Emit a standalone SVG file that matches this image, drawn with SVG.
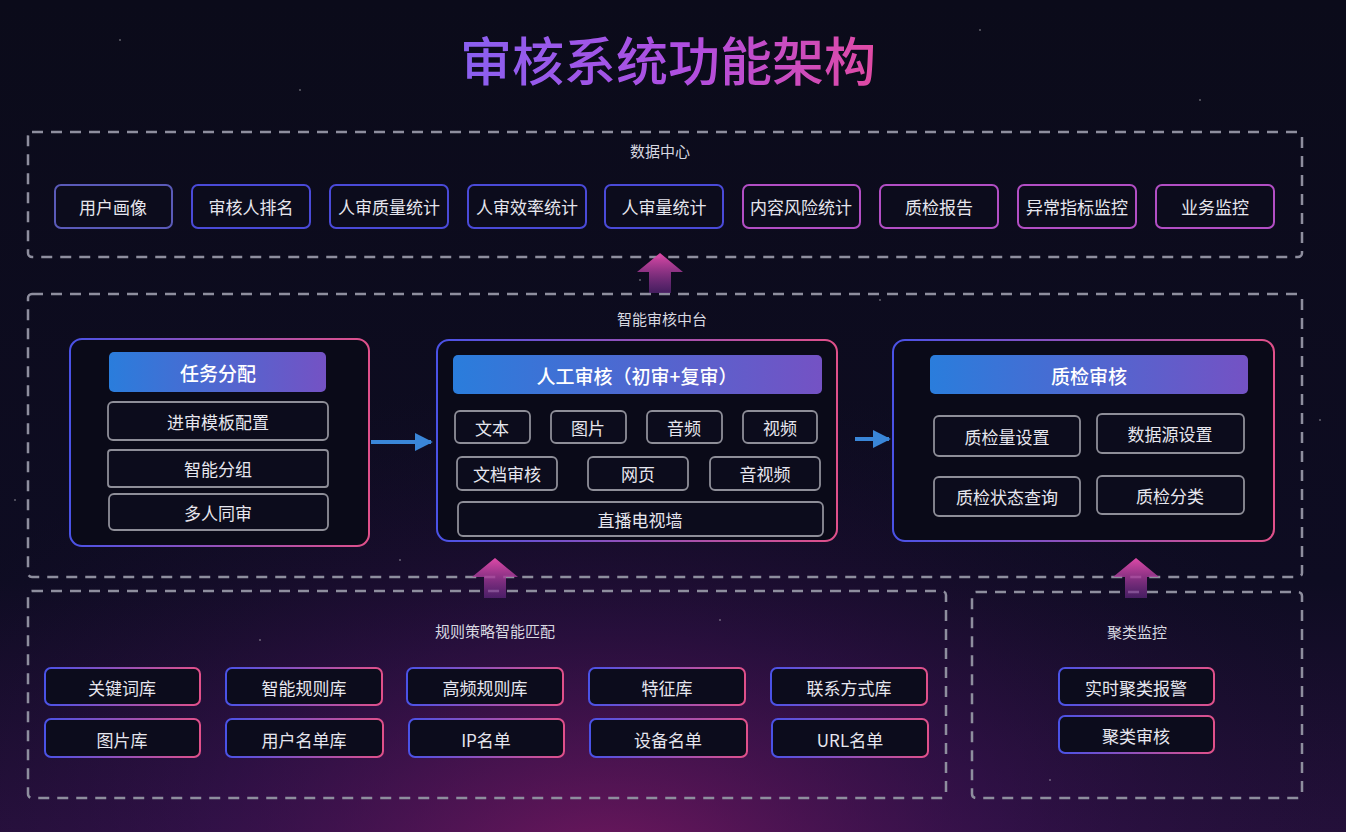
<svg xmlns="http://www.w3.org/2000/svg" width="1346" height="832" viewBox="0 0 1346 832">
<defs>
<linearGradient id="bg" x1="0" y1="0" x2="0" y2="1">
<stop offset="0" stop-color="#0b0b1a"/>
<stop offset="0.7" stop-color="#0e0c22"/>
<stop offset="1" stop-color="#24103a"/>
</linearGradient>
<radialGradient id="glow" cx="0.45" cy="1.05" r="0.6">
<stop offset="0" stop-color="#8a1a6a" stop-opacity="0.75"/>
<stop offset="0.5" stop-color="#4a1260" stop-opacity="0.35"/>
<stop offset="1" stop-color="#1a0c30" stop-opacity="0"/>
</radialGradient>
<linearGradient id="title" x1="0" y1="0" x2="1" y2="0">
<stop offset="0" stop-color="#8a60f0"/>
<stop offset="0.55" stop-color="#b04ee0"/>
<stop offset="1" stop-color="#e04aa4"/>
</linearGradient>
<linearGradient id="bp" x1="0" y1="0" x2="1" y2="0">
<stop offset="0" stop-color="#4a52e6"/>
<stop offset="1" stop-color="#e0508a"/>
</linearGradient>
<linearGradient id="hdr" x1="0" y1="0" x2="1" y2="0">
<stop offset="0" stop-color="#2a7ddc"/>
<stop offset="1" stop-color="#7452c4"/>
</linearGradient>
<linearGradient id="up" x1="0" y1="0" x2="0" y2="1">
<stop offset="0" stop-color="#e04aa8"/>
<stop offset="1" stop-color="#6a2a8a" stop-opacity="0.6"/>
</linearGradient>
<marker id="ah" viewBox="0 0 10 10" refX="9" refY="5" markerWidth="4.5" markerHeight="4.5" orient="auto">
<path d="M0,0 L10,5 L0,10 z" fill="#3a86d8"/>
</marker>
</defs>
<style>
.dash{fill:none;stroke:#8e8e9e;stroke-width:2.5;stroke-dasharray:11 8}
.lbl{font-family:"Noto Sans CJK SC","Liberation Sans",sans-serif;font-size:15px;fill:#d8d8e0;text-anchor:middle}
.t{font-family:"Noto Sans CJK SC","Liberation Sans",sans-serif;font-size:17px;fill:#e6e6ee;text-anchor:middle;dominant-baseline:central}
.h{font-family:"Noto Sans CJK SC","Liberation Sans",sans-serif;font-size:19px;font-weight:500;fill:#ffffff;text-anchor:middle;dominant-baseline:central}
.blue{fill:#0c0c1c;stroke:#4a4ad8;stroke-width:2}
.pink{fill:#0c0c1c;stroke:#b24ec4;stroke-width:2}
.grad{fill:#0c0c1c;stroke:url(#bp);stroke-width:2}
.gray{fill:#0c0c1c;stroke:#8e8e98;stroke-width:1.8}
.panel{fill:#0a0a18;stroke:url(#bp);stroke-width:2}
.hd{fill:url(#hdr)}
</style>
<rect width="1346" height="832" fill="url(#bg)"/>
<rect width="1346" height="832" fill="url(#glow)"/>
<g fill="#ffffff" opacity="0.35">
<circle cx="120" cy="40" r="1"/><circle cx="300" cy="90" r="1"/><circle cx="980" cy="30" r="1"/><circle cx="1200" cy="100" r="1"/><circle cx="640" cy="280" r="1"/><circle cx="880" cy="300" r="1"/><circle cx="400" cy="560" r="1"/><circle cx="720" cy="620" r="1"/><circle cx="1050" cy="780" r="1"/><circle cx="260" cy="640" r="1"/><circle cx="1320" cy="420" r="1"/><circle cx="15" cy="500" r="1"/>
</g>

<text x="668" y="81" font-family="Noto Sans CJK SC, Liberation Sans, sans-serif" font-size="52" font-weight="500" fill="url(#title)" text-anchor="middle">审核系统功能架构</text>

<g id="containers">
<rect class="dash" x="28" y="132" width="1274" height="125" rx="4"/>
<rect class="dash" x="28" y="294" width="1274" height="283" rx="4"/>
<rect class="dash" x="28" y="591" width="918" height="207" rx="4"/>
<rect class="dash" x="972" y="592" width="330" height="206" rx="4"/>
<text class="lbl" x="660" y="157">数据中心</text>
<text class="lbl" x="662" y="325">智能审核中台</text>
<text class="lbl" x="495" y="637">规则策略智能匹配</text>
<text class="lbl" x="1137" y="638">聚类监控</text>
</g>

<g id="data-center">
<g id="n-yhhx"><rect class="blue" x="55" y="185" width="117" height="43" rx="6" style="stroke:#5a5ab8"/><text class="t" x="113" y="206">用户画像</text></g>
<g id="n-shrpm"><rect class="blue" x="192" y="185" width="118" height="43" rx="6"/><text class="t" x="251" y="206">审核人排名</text></g>
<g id="n-rszl"><rect class="blue" x="330" y="185" width="118" height="43" rx="6"/><text class="t" x="389" y="206">人审质量统计</text></g>
<g id="n-rsxl"><rect class="blue" x="468" y="185" width="118" height="43" rx="6"/><text class="t" x="527" y="206">人审效率统计</text></g>
<g id="n-rsl"><rect class="blue" x="605" y="185" width="118" height="43" rx="6"/><text class="t" x="664" y="206">人审量统计</text></g>
<g id="n-nrfx"><rect class="pink" x="743" y="185" width="117" height="43" rx="6"/><text class="t" x="801" y="206">内容风险统计</text></g>
<g id="n-zjbg"><rect class="pink" x="880" y="185" width="118" height="43" rx="6"/><text class="t" x="939" y="206">质检报告</text></g>
<g id="n-yczb"><rect class="pink" x="1018" y="185" width="118" height="43" rx="6"/><text class="t" x="1077" y="206">异常指标监控</text></g>
<g id="n-ywjk"><rect class="pink" x="1156" y="185" width="118" height="43" rx="6"/><text class="t" x="1215" y="206">业务监控</text></g>
</g>

<g id="task">
<rect class="panel" x="70" y="339" width="299" height="207" rx="12"/>
<rect class="hd" x="109" y="352" width="217" height="40" rx="5"/>
<text class="h" x="218" y="372">任务分配</text>
<rect class="gray" x="108" y="402" width="220" height="38" rx="5"/><text class="t" x="218" y="421">进审模板配置</text>
<rect class="gray" x="108" y="450" width="220" height="37" rx="3"/><text class="t" x="218" y="468">智能分组</text>
<rect class="gray" x="109" y="494" width="219" height="36" rx="5"/><text class="t" x="218" y="512">多人同审</text>
</g>

<g id="manual">
<rect class="panel" x="437" y="340" width="400" height="201" rx="12"/>
<rect class="hd" x="453" y="355" width="369" height="39" rx="5"/>
<text class="h" x="637" y="375">人工审核（初审+复审）</text>
<rect class="gray" x="455" y="411" width="75" height="32" rx="5"/><text class="t" x="492" y="427">文本</text>
<rect class="gray" x="551" y="411" width="75" height="32" rx="5"/><text class="t" x="588" y="427">图片</text>
<rect class="gray" x="647" y="411" width="75" height="32" rx="5"/><text class="t" x="684" y="427">音频</text>
<rect class="gray" x="743" y="411" width="74" height="32" rx="5"/><text class="t" x="780" y="427">视频</text>
<rect class="gray" x="457" y="457" width="100" height="33" rx="5"/><text class="t" x="507" y="473">文档审核</text>
<rect class="gray" x="588" y="457" width="100" height="33" rx="5"/><text class="t" x="638" y="473">网页</text>
<rect class="gray" x="710" y="457" width="110" height="33" rx="5"/><text class="t" x="765" y="473">音视频</text>
<rect class="gray" x="458" y="502" width="365" height="34" rx="5"/><text class="t" x="640" y="519">直播电视墙</text>
</g>

<g id="qc">
<rect class="panel" x="893" y="340" width="381" height="201" rx="12"/>
<rect class="hd" x="930" y="355" width="318" height="39" rx="5"/>
<text class="h" x="1089" y="375">质检审核</text>
<rect class="gray" x="934" y="416" width="146" height="40" rx="5"/><text class="t" x="1007" y="436">质检量设置</text>
<rect class="gray" x="1097" y="414" width="147" height="39" rx="5"/><text class="t" x="1170" y="433">数据源设置</text>
<rect class="gray" x="934" y="477" width="146" height="39" rx="5"/><text class="t" x="1007" y="496">质检状态查询</text>
<rect class="gray" x="1097" y="476" width="147" height="38" rx="5"/><text class="t" x="1170" y="495">质检分类</text>
</g>

<g id="rules">
<g><rect class="grad" x="45" y="668" width="155" height="37" rx="6"/><text class="t" x="122" y="687">关键词库</text></g>
<g><rect class="grad" x="226" y="668" width="156" height="37" rx="6"/><text class="t" x="304" y="687">智能规则库</text></g>
<g><rect class="grad" x="407" y="668" width="156" height="37" rx="6"/><text class="t" x="485" y="687">高频规则库</text></g>
<g><rect class="grad" x="589" y="668" width="156" height="37" rx="6"/><text class="t" x="667" y="687">特征库</text></g>
<g><rect class="grad" x="771" y="668" width="156" height="37" rx="6"/><text class="t" x="849" y="687">联系方式库</text></g>
<g><rect class="grad" x="45" y="719" width="155" height="38" rx="6"/><text class="t" x="122" y="739">图片库</text></g>
<g><rect class="grad" x="226" y="719" width="157" height="38" rx="6"/><text class="t" x="304" y="739">用户名单库</text></g>
<g><rect class="grad" x="409" y="719" width="155" height="38" rx="6"/><text class="t" x="486" y="739">IP名单</text></g>
<g><rect class="grad" x="590" y="719" width="157" height="38" rx="6"/><text class="t" x="668" y="739">设备名单</text></g>
<g><rect class="grad" x="772" y="719" width="156" height="38" rx="6"/><text class="t" x="850" y="739">URL名单</text></g>
</g>

<g id="cluster">
<g><rect class="grad" x="1059" y="668" width="155" height="37" rx="6"/><text class="t" x="1136" y="687">实时聚类报警</text></g>
<g><rect class="grad" x="1059" y="716" width="155" height="37" rx="6"/><text class="t" x="1136" y="735">聚类审核</text></g>
</g>

<g id="connectors">
<line x1="371" y1="442" x2="431" y2="442" stroke="#3a86d8" stroke-width="4" marker-end="url(#ah)"/>
<line x1="855" y1="439" x2="889" y2="439" stroke="#3a86d8" stroke-width="4" marker-end="url(#ah)"/>
<path d="M660,253 L683,272 L671,272 L671,293 L649,293 L649,272 L637,272 Z" fill="url(#up)"/>
<path d="M495,558 L518,577 L506,577 L506,598 L484,598 L484,577 L472,577 Z" fill="url(#up)"/>
<path d="M1136,558 L1159,577 L1147,577 L1147,598 L1125,598 L1125,577 L1113,577 Z" fill="url(#up)"/>
</g>
</svg>
